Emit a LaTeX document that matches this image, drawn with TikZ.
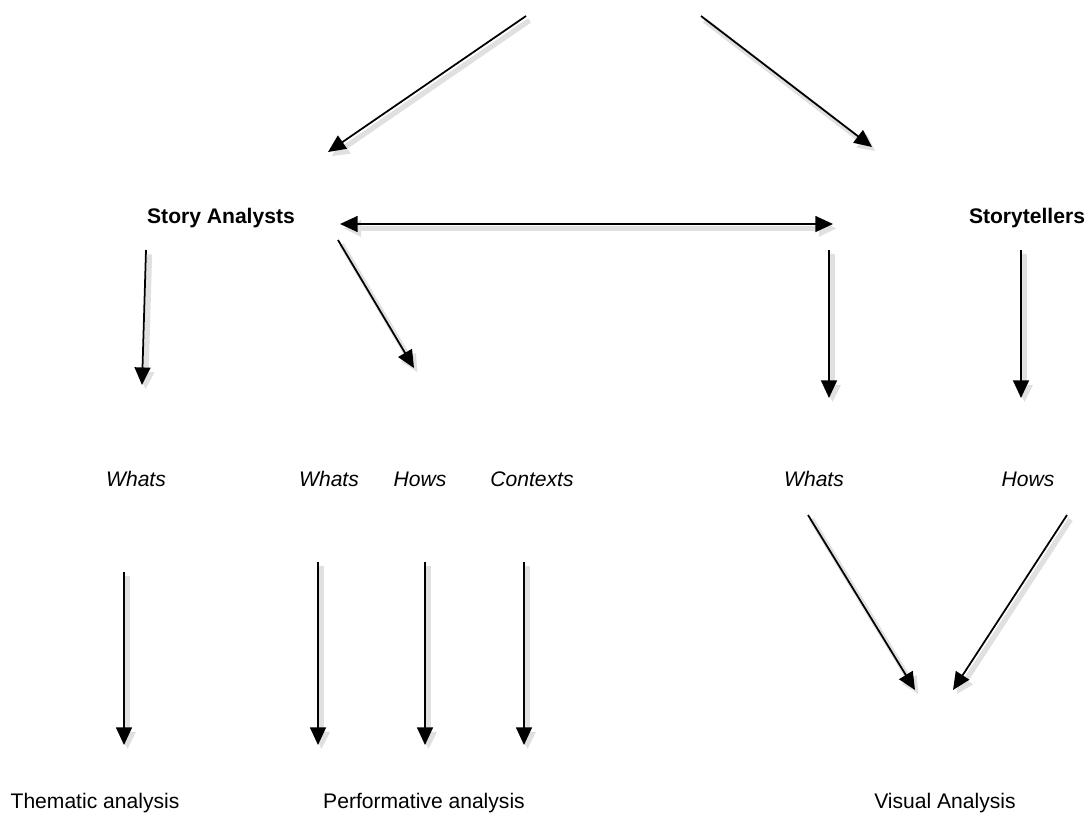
\documentclass[tikz,border=0pt]{standalone}
\usepackage{fontspec}
\setmainfont{Liberation Sans}
\usetikzlibrary{arrows.meta}

\begin{document}
\begin{tikzpicture}[x=0.02cm,y=-0.02cm,
    lbl/.style={font=\fontsize{12}{14}\selectfont},
    tip/.style={Triangle[length=10pt,width=9pt]},
    arr/.style={-{Triangle[length=10pt,width=9pt]},line width=1pt,
        preaction={draw=black!12,line width=3pt,transform canvas={shift={(2pt,-2.5pt)}}}}]
    \useasboundingbox (0,0) rectangle (1089,815);

    % labels
    \node[lbl,font=\fontsize{12}{14}\selectfont\bfseries] (analysts) at (221,218) {Story Analysts};
    \node[lbl,font=\fontsize{12}{14}\selectfont\bfseries] (tellers) at (1027,218) {Storytellers};
    \foreach \n/\x/\t in {whatA/136/Whats,whatB/329/Whats,howB/420/Hows,ctxB/532/Contexts,whatC/814/Whats,howC/1028/Hows} {
        \node[lbl,font=\fontsize{12}{14}\selectfont\itshape] (\n) at (\x,479) {\t};
    }
    \node[lbl] (thematic) at (95,803) {Thematic analysis};
    \node[lbl] (performative) at (424,803) {Performative analysis};
    \node[lbl] (visual) at (945,803) {Visual Analysis};

    % arrow ends
    \coordinate (top1) at (526,16);
    \coordinate (top2) at (701,16);
    \coordinate (sa) at (328,152);
    \coordinate (st) at (872,147);
    \coordinate (dl) at (340,224);
    \coordinate (dr) at (833,224);
    \coordinate (sv) at (829,250);
    \coordinate (svt) at (829,398);
    \coordinate (a1) at (146,250);
    \coordinate (a1t) at (142,385);
    \coordinate (a2) at (338,240);
    \coordinate (a2t) at (414,368);
    \coordinate (t1) at (1021,250);
    \coordinate (t1t) at (1021,398);
    \coordinate (v1) at (808,515);
    \coordinate (v1t) at (915,690);
    \coordinate (v2) at (1067,515);
    \coordinate (v2t) at (953,690);

    \draw[arr] (top1) -- (sa);
    \draw[arr] (top2) -- (st);
    \draw[arr,{Triangle[length=10pt,width=9pt]}-{Triangle[length=10pt,width=9pt]}] (dl) -- (dr);
    \draw[arr] (a1) -- (a1t);
    \draw[arr] (a2) -- (a2t);
    \draw[arr] (sv) -- (svt);
    \draw[arr] (t1) -- (t1t);
    \draw[arr] (v1) -- (v1t);
    \draw[arr] (v2) -- (v2t);

    \foreach \x/\y in {124/572,318/562,425/562,524/562} {
        \draw[arr] (\x,\y) coordinate (b\x) -- (\x,745) coordinate (e\x);
    }
\end{tikzpicture}
\end{document}
